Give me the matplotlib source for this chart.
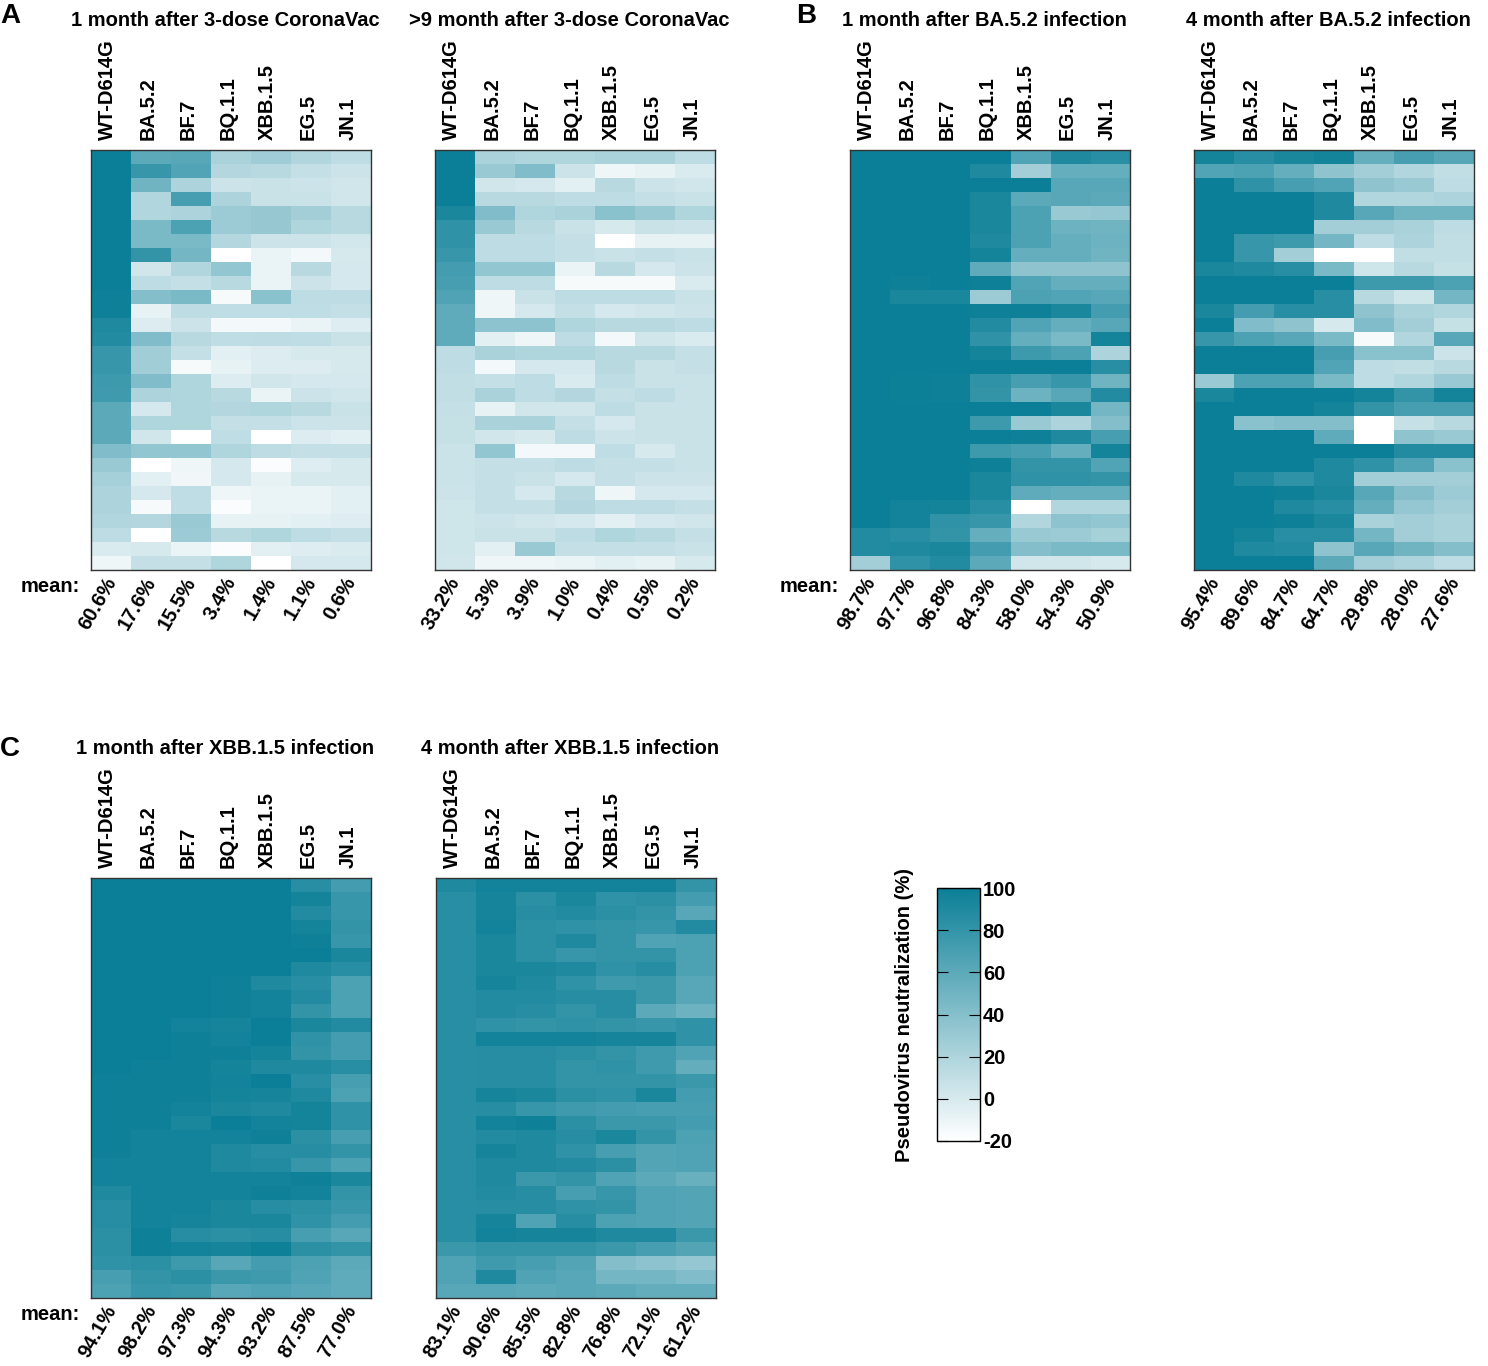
import numpy as np
import matplotlib
matplotlib.use("Agg")
import matplotlib.pyplot as plt
from matplotlib.colors import LinearSegmentedColormap

plt.rcParams['font.family'] = ['Liberation Sans', 'DejaVu Sans']
plt.rcParams['axes.unicode_minus'] = False

variants = ["WT-D614G", "BA.5.2", "BF.7", "BQ.1.1", "XBB.1.5", "EG.5", "JN.1"]

titles = ["1 month after 3-dose CoronaVac", ">9 month after 3-dose CoronaVac",
          "1 month after BA.5.2 infection", "4 month after BA.5.2 infection",
          "1 month after XBB.1.5 infection", "4 month after XBB.1.5 infection"]

means = [["60.6%", "17.6%", "15.5%", "3.4%", "1.4%", "1.1%", "0.6%"],
         ["33.2%", "5.3%", "3.9%", "1.0%", "0.4%", "0.5%", "0.2%"],
         ["98.7%", "97.7%", "96.8%", "84.3%", "58.0%", "54.3%", "50.9%"],
         ["95.4%", "89.6%", "84.7%", "64.7%", "29.8%", "28.0%", "27.6%"],
         ["94.1%", "98.2%", "97.3%", "94.3%", "93.2%", "87.5%", "77.0%"],
         ["83.1%", "90.6%", "85.5%", "82.8%", "76.8%", "72.1%", "61.2%"]]

# neutralization (%) per participant (rows) and variant (columns)
a1 = [[100, 60, 62, 22, 27, 18, 12],
      [100, 78, 65, 17, 15, 9, 5],
      [100, 50, 20, 5, 7, 5, 3],
      [100, 18, 70, 20, 7, 7, 3],
      [100, 18, 20, 28, 31, 25, 15],
      [100, 45, 68, 28, 31, 19, 15],
      [100, 45, 45, 17, 5, 5, 2],
      [100, 80, 48, -20, -10, -14, 0],
      [100, 3, 18, 33, -10, 15, 1],
      [100, 12, 9, 15, -10, 5, 1],
      [98, 40, 45, -16, 38, 12, 12],
      [98, -8, 12, 11, 11, 11, 9],
      [90, -3, 5, -14, -14, -10, -4],
      [88, 42, 15, 11, 12, 11, 7],
      [78, 26, 9, -6, -3, 0, 0],
      [78, 26, -16, -8, -3, -3, 0],
      [75, 42, 19, -3, 3, 1, 1],
      [74, 20, 19, 15, -10, 5, 3],
      [60, 1, 19, 17, 19, 15, 7],
      [60, 19, 19, 9, 9, 5, 5],
      [60, 3, -20, 11, -20, -3, -6],
      [42, 33, 33, 19, 12, 9, 9],
      [30, -20, -12, 1, -18, -4, 0],
      [24, -6, -13, 1, -8, 0, 0],
      [20, 1, 11, -12, -10, -10, -6],
      [20, -16, 11, -18, -10, -10, -6],
      [18, 17, 30, -8, -8, -6, -4],
      [12, -20, 28, 15, 19, 12, 9],
      [-2, 0, -10, -18, -6, -4, -2],
      [-12, 9, 9, 19, -20, 1, 1]]

a2 = [[100, 22, 19, 19, 22, 22, 12],
      [100, 30, 42, 5, -12, -8, -2],
      [100, 3, 1, -6, 15, 5, 3],
      [100, 15, 15, 12, 12, 9, 7],
      [92, 42, 19, 22, 38, 30, 19],
      [82, 30, 15, 7, 0, 7, 5],
      [82, 12, 12, 9, -20, -8, -8],
      [78, 12, 12, 9, 7, 9, 7],
      [72, 33, 33, -10, 15, 1, 5],
      [70, 12, 12, -16, -16, -16, -2],
      [66, -12, 7, 12, 12, 12, 7],
      [58, -12, 1, 9, 1, 3, 5],
      [58, 36, 36, 19, 15, 15, 12],
      [58, -6, -12, 12, -14, 3, -2],
      [12, 22, 19, 19, 15, 15, 9],
      [12, -14, 1, 1, 15, 7, 9],
      [10, 9, 12, -2, 12, 7, 7],
      [10, 22, 12, 17, 9, 12, 7],
      [9, -8, 3, 3, 12, 7, 7],
      [8, 22, 22, 9, 1, 7, 7],
      [8, 3, 0, 12, 5, 7, 7],
      [6, 33, -14, -14, 11, 0, 7],
      [6, 9, 9, 12, 9, 9, 7],
      [6, 9, 7, 1, 9, 5, 5],
      [5, 9, 1, 15, -12, 1, 1],
      [4, 9, 9, 17, 12, 12, 9],
      [4, 5, 3, 1, -6, 1, 3],
      [4, 7, 7, 12, 19, 15, 9],
      [4, -6, 30, 9, 9, 9, 7],
      [3, -12, -12, -10, -6, -8, 0]]

b1 = [[100, 100, 100, 100, 65, 90, 85],
      [100, 100, 100, 90, 25, 55, 55],
      [100, 100, 100, 100, 100, 62, 62],
      [100, 100, 100, 92, 60, 62, 60],
      [100, 100, 100, 92, 68, 30, 32],
      [100, 100, 100, 92, 68, 52, 50],
      [100, 100, 100, 90, 68, 55, 52],
      [100, 100, 100, 95, 55, 55, 50],
      [100, 100, 100, 58, 35, 35, 35],
      [100, 98, 100, 98, 65, 55, 55],
      [100, 92, 92, 28, 68, 65, 62],
      [100, 100, 100, 98, 98, 92, 72],
      [100, 100, 100, 88, 65, 55, 62],
      [100, 100, 100, 82, 55, 45, 95],
      [100, 100, 100, 95, 75, 68, 20],
      [100, 100, 100, 100, 100, 100, 85],
      [100, 99, 98, 82, 70, 78, 50],
      [100, 99, 98, 80, 52, 62, 88],
      [100, 100, 100, 100, 100, 92, 48],
      [100, 100, 100, 75, 30, 20, 40],
      [100, 100, 100, 100, 98, 90, 70],
      [100, 100, 100, 75, 70, 55, 95],
      [100, 100, 100, 98, 80, 80, 65],
      [100, 100, 100, 92, 82, 82, 80],
      [100, 100, 100, 92, 58, 55, 55],
      [100, 96, 95, 85, -20, 18, 18],
      [100, 96, 82, 78, 18, 36, 33],
      [88, 85, 80, 55, 30, 28, 23],
      [88, 90, 92, 72, 40, 45, 45],
      [25, 82, 88, 60, 3, 3, 0]]

b2 = [[95, 85, 92, 95, 55, 70, 62],
      [65, 68, 55, 35, 25, 18, 10],
      [100, 82, 70, 65, 35, 30, 12],
      [100, 100, 100, 90, 18, 18, 20],
      [100, 100, 100, 90, 62, 50, 50],
      [100, 100, 100, 25, 25, 22, 12],
      [100, 78, 75, 48, 12, 20, 10],
      [100, 78, 25, -20, -20, 10, 10],
      [92, 90, 85, 45, 4, 15, 8],
      [100, 100, 100, 100, 75, 75, 68],
      [100, 100, 100, 85, 15, 4, 48],
      [92, 72, 85, 85, 35, 22, 18],
      [100, 42, 35, 0, 42, 25, 8],
      [78, 68, 62, 45, -16, 18, 62],
      [100, 100, 100, 70, 38, 38, 5],
      [100, 100, 100, 65, 12, 10, 15],
      [30, 68, 68, 45, 12, 18, 30],
      [92, 100, 100, 100, 95, 80, 95],
      [100, 100, 100, 95, 80, 70, 70],
      [100, 38, 40, 40, -20, 8, 15],
      [100, 100, 100, 58, -20, 35, 30],
      [100, 100, 100, 100, 100, 88, 88],
      [100, 100, 100, 90, 82, 65, 38],
      [100, 90, 82, 90, 25, 25, 25],
      [100, 100, 98, 92, 62, 40, 28],
      [100, 100, 90, 85, 55, 32, 25],
      [100, 100, 98, 92, 22, 25, 22],
      [100, 95, 85, 85, 48, 25, 22],
      [100, 90, 88, 35, 62, 50, 40],
      [100, 100, 100, 60, 25, 20, 12]]

c1 = [[100, 100, 100, 100, 100, 85, 72],
      [100, 100, 100, 100, 100, 95, 78],
      [100, 100, 100, 100, 100, 88, 78],
      [100, 100, 100, 100, 100, 95, 80],
      [100, 100, 100, 100, 100, 98, 78],
      [100, 100, 100, 100, 100, 100, 92],
      [100, 100, 100, 100, 100, 90, 85],
      [100, 100, 100, 98, 90, 85, 68],
      [100, 100, 100, 98, 96, 88, 68],
      [100, 100, 100, 98, 96, 80, 68],
      [100, 100, 96, 94, 100, 92, 88],
      [100, 100, 98, 96, 100, 82, 72],
      [100, 100, 98, 98, 95, 80, 72],
      [100, 98, 98, 95, 90, 90, 85],
      [98, 98, 98, 96, 100, 85, 70],
      [98, 98, 98, 95, 94, 90, 68],
      [98, 98, 96, 92, 90, 95, 82],
      [98, 98, 92, 100, 96, 95, 82],
      [98, 96, 96, 96, 98, 84, 70],
      [98, 96, 96, 90, 86, 86, 80],
      [96, 96, 96, 90, 88, 78, 68],
      [96, 96, 96, 96, 96, 98, 92],
      [90, 96, 96, 96, 98, 96, 80],
      [86, 96, 96, 92, 86, 84, 78],
      [86, 96, 94, 92, 92, 82, 72],
      [84, 98, 86, 84, 86, 70, 62],
      [84, 98, 96, 94, 98, 84, 80],
      [82, 84, 75, 62, 72, 68, 60],
      [70, 80, 84, 76, 74, 66, 58],
      [68, 78, 76, 62, 66, 62, 58]]

c2 = [[90, 96, 96, 96, 96, 96, 80],
      [85, 94, 84, 92, 82, 84, 72],
      [85, 94, 86, 88, 84, 80, 62],
      [85, 96, 84, 82, 80, 78, 88],
      [85, 92, 84, 90, 80, 66, 68],
      [85, 92, 84, 78, 80, 80, 68],
      [85, 92, 92, 90, 82, 86, 68],
      [85, 94, 90, 82, 74, 76, 62],
      [85, 88, 88, 86, 86, 76, 62],
      [85, 88, 86, 80, 86, 60, 52],
      [85, 82, 80, 82, 80, 78, 82],
      [85, 96, 96, 96, 94, 94, 82],
      [85, 86, 86, 84, 80, 74, 66],
      [85, 86, 86, 80, 82, 74, 56],
      [85, 86, 86, 80, 80, 80, 76],
      [85, 94, 92, 84, 82, 92, 72],
      [85, 86, 78, 74, 72, 70, 70],
      [85, 96, 98, 84, 76, 76, 72],
      [85, 88, 90, 86, 92, 80, 68],
      [85, 94, 90, 82, 70, 64, 66],
      [85, 90, 90, 88, 84, 64, 66],
      [85, 90, 76, 80, 66, 60, 54],
      [85, 88, 86, 70, 78, 66, 64],
      [85, 86, 86, 82, 80, 66, 64],
      [85, 94, 66, 86, 68, 66, 64],
      [85, 96, 94, 94, 90, 90, 76],
      [76, 80, 80, 80, 76, 70, 64],
      [66, 74, 70, 64, 40, 36, 32],
      [66, 90, 66, 62, 48, 48, 42],
      [62, 62, 60, 62, 60, 56, 56]]

panels = [a1, a2, b1, b2, c1, c2]

cmap = LinearSegmentedColormap.from_list("neut", ["#ffffff", "#0b7f97"])
vmin, vmax = -20, 100
fs = 14.5

W, H = 1488, 1366
fig = plt.figure(figsize=(W / 100, H / 100), dpi=100)

# left edge / top edge of each heatmap in pixels
boxes = [(91, 150), (435, 150), (850, 150), (1194, 150), (91, 878), (436, 878)]
bw, bh = 280, 420

for k, (data, (x0, y0)) in enumerate(zip(panels, boxes)):
    ax = fig.add_axes([x0 / W, 1 - (y0 + bh) / H, bw / W, bh / H])
    arr = np.array(data)
    im = ax.imshow(arr, cmap=cmap, vmin=vmin, vmax=vmax, aspect='auto',
                   interpolation='nearest')
    ax.set_xticks([])
    ax.set_yticks([])
    for s in ax.spines.values():
        s.set_linewidth(1.0)
        s.set_color("#333333")
    # column labels above
    for i, v in enumerate(variants):
        ax.text(i - 0.08, -1.2, v, rotation=90, ha='center', va='bottom',
                fontsize=fs, fontweight='bold')
    # title
    fig.text((x0 + bw / 2 - 6) / W, 1 - (y0 - 130) / H, titles[k],
             ha='center', va='center', fontsize=fs, fontweight='bold')
    # mean values
    n = arr.shape[0]
    for i, m in enumerate(means[k]):
        ax.text(i + 0.02, n - 0.5 + 0.6, m, rotation=60, rotation_mode='anchor',
                ha='right', va='center', fontsize=fs, fontweight='bold')
    if k in (0, 2, 4):
        fig.text((x0 - 11) / W, 1 - (y0 + bh + 17) / H, "mean:", ha='right',
                 va='center', fontsize=fs, fontweight='bold')

# panel letters
fig.text(0 / W, 1 - 16 / H, "A", ha='left', va='center', fontsize=20, fontweight='bold')
fig.text(796 / W, 1 - 16 / H, "B", ha='left', va='center', fontsize=20, fontweight='bold')
fig.text(0 / W, 1 - 749 / H, "C", ha='left', va='center', fontsize=20, fontweight='bold')

# colorbar
cax = fig.add_axes([937 / W, 1 - 1141 / H, 43 / W, 253 / H])
cb = fig.colorbar(im, cax=cax, ticks=[-20, 0, 20, 40, 60, 80, 100])
cb.outline.set_linewidth(1.0)
cax.tick_params(axis='y', direction='in', length=8, width=0.8, left=True, right=True,
                labelsize=fs, pad=2)
for t in cax.get_yticklabels():
    t.set_fontweight('bold')
cax.text(-0.75, 0.5, "Pseudovirus neutralization (%)", rotation=90, ha='center',
         va='center', transform=cax.transAxes, fontsize=fs, fontweight='bold')

fig.savefig("out.png", dpi=100)
